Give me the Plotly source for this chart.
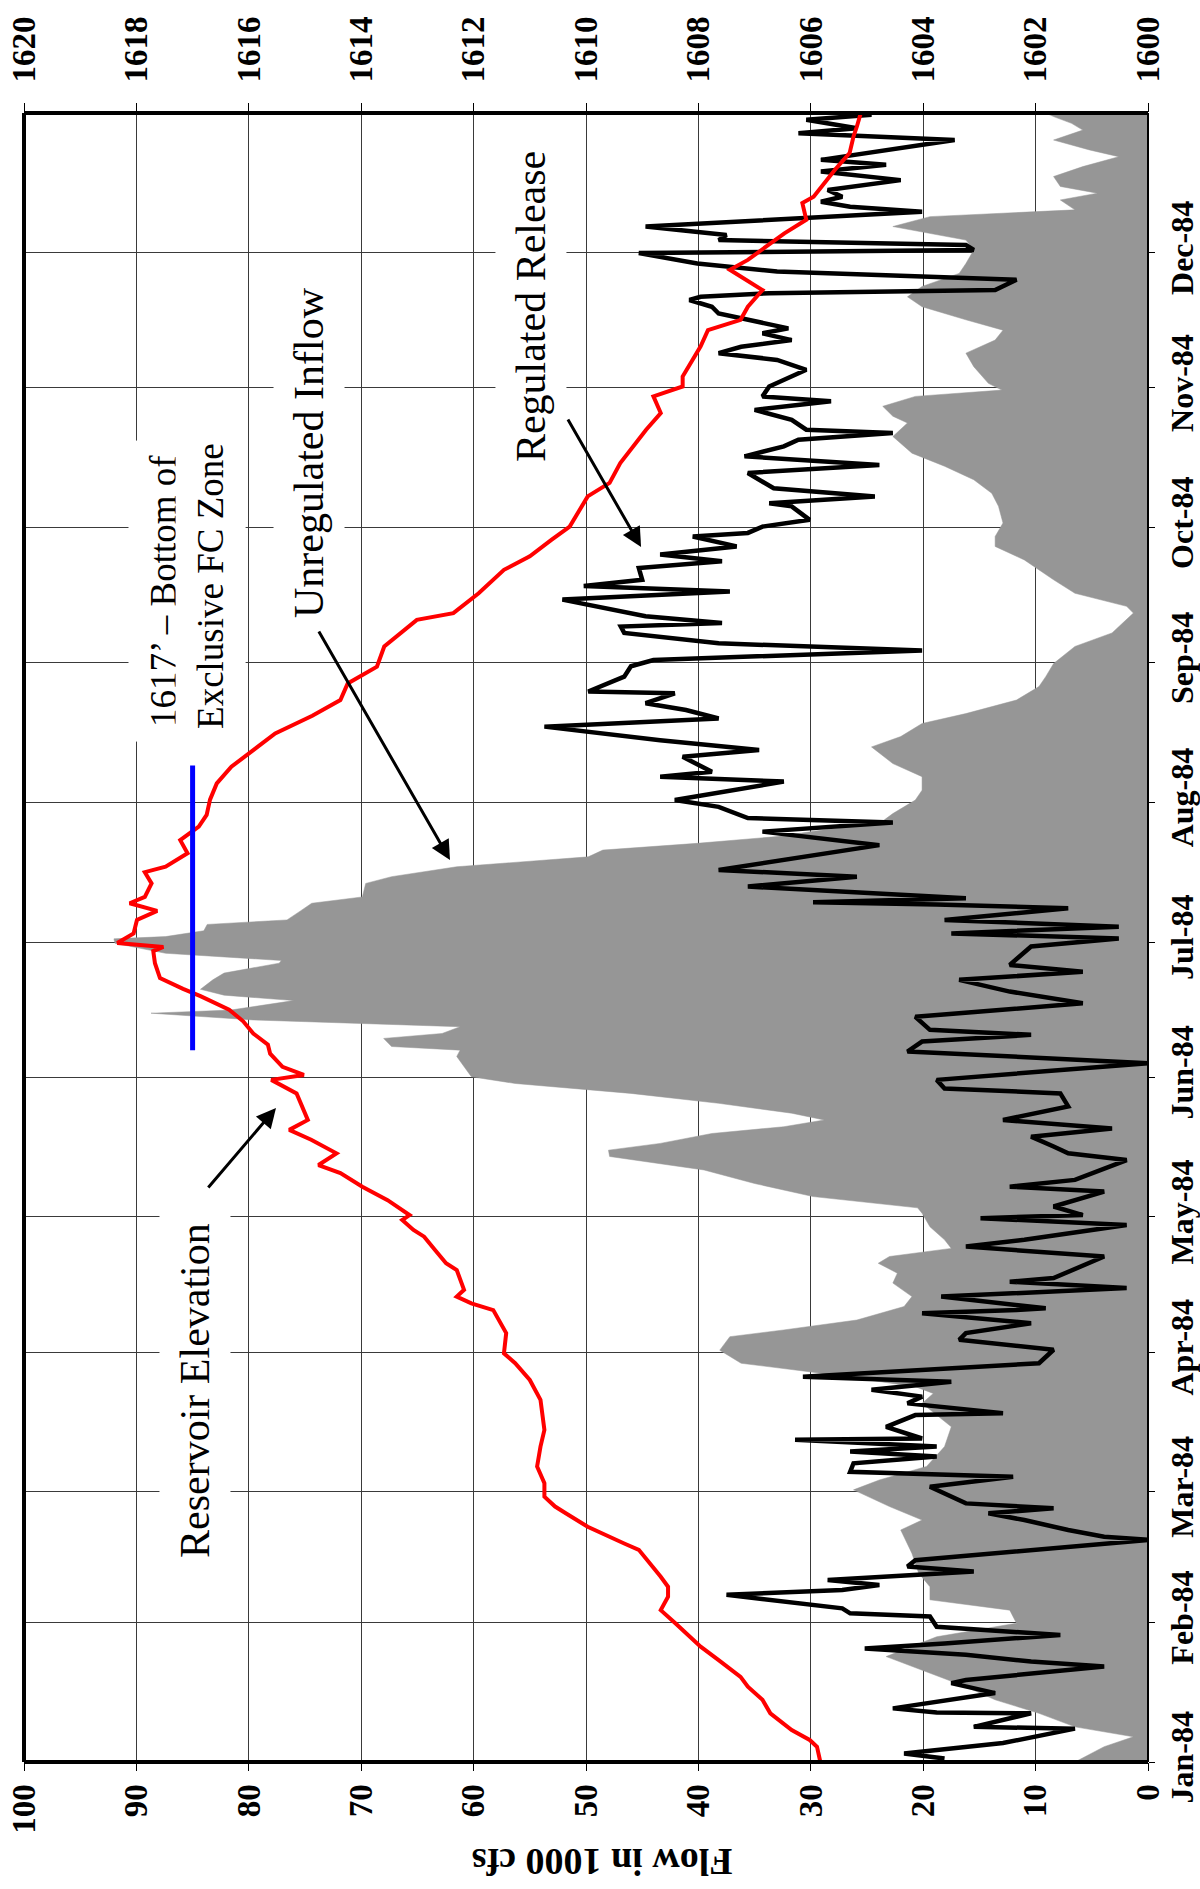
import pandas as pd
import plotly.graph_objects as go

# ---------------- data (day offsets from 1 Jan 1984) ----------------
elev_days = [0.0, 3.4, 4.9, 7.1, 10.8, 13.8, 16.7, 18.9, 22.6, 25.6, 30.8, 33.7, 36.7, 38.9, 41.1, 44.1,
             47.1, 48.5, 52.2, 55.2, 56.7, 58.9, 61.9, 65.6, 70.0, 73.7, 80.4, 84.8, 88.5, 90.7, 95.2,
             100.3, 101.8, 103.3, 104.8, 109.2, 110.7, 113.7, 116.6, 118.1, 120.3, 121.4, 124.7, 127.7,
             130.7, 132.5, 135.1, 138.1, 140.3, 142.5, 148.4, 151.4, 152.5, 154.3, 157.2, 159.2, 161.7,
             164.4, 167.0, 170.0, 171.6, 174.0, 177.3, 180.0, 180.9, 181.8, 183.9, 186.9, 188.9, 190.6,
             192.0, 195.0, 197.5, 198.7, 201.7, 204.6, 207.6, 210.2, 213.6, 217.2, 220.9, 224.6, 228.3,
             232.2, 235.7, 239.4, 243.1, 247.6, 253.5, 255.0, 259.4, 264.6, 267.6, 271.3, 274.2, 280.9,
             283.9, 288.3, 291.3, 295.7, 299.4, 303.1, 305.3, 307.5, 314.2, 317.8, 320.1, 323.0, 326.7,
             328.2, 331.2, 333.4, 336.3, 339.3, 342.3, 346.0, 347.4, 350.4, 353.4, 357.1, 360.8, 363.0, 366.0]
elev_ft = [1605.83, 1605.89, 1606.02, 1606.34, 1606.72, 1606.86, 1607.12, 1607.25, 1607.64, 1607.96, 1608.41,
           1608.67, 1608.54, 1608.54, 1608.67, 1608.87, 1609.06, 1609.32, 1609.97, 1610.36, 1610.55, 1610.74,
           1610.74, 1610.87, 1610.81, 1610.74, 1610.81, 1611.00, 1611.26, 1611.46, 1611.42, 1611.65, 1612.04,
           1612.30, 1612.17, 1612.30, 1612.49, 1612.69, 1612.88, 1613.07, 1613.27, 1613.14, 1613.53, 1613.98,
           1614.37, 1614.76, 1614.44, 1614.89, 1615.28, 1614.95, 1615.15, 1615.60, 1615.02, 1615.40, 1615.62,
           1615.66, 1615.92, 1616.10, 1616.35, 1616.86, 1617.17, 1617.58, 1617.67, 1617.70, 1617.52, 1618.34,
           1618.05, 1617.99, 1617.63, 1618.12, 1617.85, 1617.73, 1617.85, 1617.48, 1617.09, 1617.22, 1616.89,
           1616.75, 1616.69, 1616.57, 1616.31, 1615.92, 1615.53, 1614.87, 1614.37, 1614.24, 1613.72, 1613.59,
           1613.01, 1612.36, 1611.91, 1611.46, 1611.00, 1610.61, 1610.29, 1609.97, 1609.58, 1609.39, 1609.20,
           1608.93, 1608.67, 1608.80, 1608.28, 1608.28, 1607.96, 1607.83, 1607.25, 1607.12, 1606.86, 1607.06,
           1607.44, 1607.12, 1606.80, 1606.47, 1606.08, 1606.15, 1605.95, 1605.76, 1605.57, 1605.31, 1605.24,
           1605.18, 1605.11]

inflow_days = [0.0, 3.4, 5.6, 7.8, 10.8, 13.8, 16.7, 19.7, 23.4, 27.8, 30.8, 33.7, 36.0, 38.9, 41.9, 46.3,
               51.5, 53.7, 56.7, 60.4, 62.6, 65.6, 70.0, 74.4, 79.6, 81.8, 83.3, 86.3, 88.5, 91.4, 94.4,
               95.9, 98.1, 101.1, 103.3, 106.3, 108.5, 110.7, 112.2, 114.0, 115.9, 118.8, 121.8, 123.0,
               125.5, 128.4, 131.4, 134.4, 135.8, 137.3, 139.5, 141.0, 142.5, 144.0, 146.2, 148.4, 150.6,
               152.1, 154.3, 156.6, 158.0, 158.8, 160.6, 161.7, 163.2, 164.7, 166.2, 166.9, 169.0, 170.2,
               171.5, 173.6, 175.1, 177.3, 177.9, 179.5, 181.7, 182.7, 183.2, 184.5, 185.9, 186.9, 188.9,
               190.6, 192.0, 195.0, 196.5, 198.7, 200.9, 202.4, 203.9, 205.4, 206.8, 208.3, 210.5, 213.5,
               215.7, 218.7, 221.6, 225.3, 227.6, 230.5, 232.7, 235.7, 238.7, 240.9, 243.8, 247.6, 250.6,
               255.0, 256.5, 259.4, 262.4, 266.8, 269.8, 272.0, 275.0, 278.7, 281.6, 284.6, 287.6, 290.5,
               294.2, 297.2, 298.7, 300.9, 303.1, 304.5, 306.0, 309.7, 312.7, 315.6, 317.8, 320.1, 323.0,
               325.2, 327.5, 330.4, 332.6, 335.6, 337.8, 340.8, 343.0, 344.5, 346.7, 348.2, 349.7, 351.9,
               354.1, 356.3, 357.8, 360.0, 362.2, 363.7, 365.2, 366.0]
inflow_kcfs = [6.5, 3.9, 1.3, 6.5, 9.7, 13.6, 16.2, 19.4, 23.3, 18.8, 11.7, 12.3, 19.4, 19.4, 20.4, 21.0,
               22.0, 20.1, 23.0, 26.2, 23.9, 19.7, 18.1, 17.5, 20.1, 19.1, 20.7, 29.1, 36.2, 38.1, 37.2,
               32.4, 25.9, 21.7, 21.0, 22.7, 22.3, 24.0, 23.0, 17.5, 18.1, 19.4, 20.1, 20.5,
               29.8, 35.0, 39.5, 47.9, 48.0, 43.4, 38.8, 32.4, 28.8, 31.7, 38.2, 46.0, 56.3,
               60.2, 60.8, 61.5, 61.2, 67.3, 68.0, 62.8, 61.2, 79.6, 88.7, 81.6, 76.0, 82.2,
               84.3, 83.2, 82.2, 77.3, 77.1, 87.4, 91.9, 92.0, 87.4, 84.0, 83.7, 76.6, 75.4,
               74.4, 69.9, 69.6, 67.3, 61.5, 49.8, 48.5, 40.1, 33.0, 29.1, 23.9, 22.7, 20.7,
               20.1, 20.1, 22.7, 24.6, 22.0, 20.1, 16.2, 11.7, 9.7, 9.1, 8.4, 6.5, 3.2,
               1.3, 1.9, 6.5, 8.4, 11.0, 13.6, 13.6, 12.9, 13.3, 13.9, 15.5, 18.1, 21.0,
               22.7, 21.4, 22.7, 23.6, 20.7, 13.0, 14.2, 15.5, 16.2, 13.6, 12.9, 16.2, 20.1,
               21.4, 20.1, 16.8, 16.2, 15.5, 16.2, 22.7, 19.4, 6.5, 7.8, 4.5, 7.8, 8.4,
               5.8, 2.6, 5.2, 8.4, 5.8, 6.8, 8.4, 9.1]

release_days = [0.8, 1.9, 4.2, 7.4, 7.8, 10.8, 11.0, 11.9, 15.3, 17.5, 18.2, 21.2, 22.3, 23.8, 25.2, 26.3,
                28.2, 29.7, 30.0, 32.3, 33.0, 34.1, 37.1, 38.2, 39.3, 40.4, 42.3, 43.4, 44.8, 49.3, 50.0,
                51.5, 53.7, 55.2, 56.3, 57.4, 61.1, 63.3, 64.4, 66.3, 67.8, 68.9, 70.0, 71.5, 71.8, 74.4,
                77.0, 77.4, 79.6, 81.1, 82.6, 84.4, 85.5, 88.5, 91.5, 93.7, 95.2, 97.4, 99.6, 100.3, 100.7,
                103.3, 105.2, 106.6, 107.4, 112.2, 114.4, 115.9, 119.2, 120.7, 121.4, 123.3, 126.6, 127.7,
                129.2, 133.6, 135.1, 136.6, 138.8, 140.6, 142.5, 145.5, 148.4, 149.5, 151.4, 155.1, 157.7,
                159.9, 161.4, 162.5, 165.4, 168.4, 171.0, 173.6, 175.4, 176.9, 181.0, 182.8, 183.9, 185.4,
                186.9, 189.5, 190.3, 190.8, 191.7, 194.3, 196.5, 198.0, 203.5, 206.5, 208.5, 209.5, 212.0,
                213.5, 217.6, 218.7, 219.8, 223.1, 224.6, 226.8, 229.8, 231.6, 233.5, 235.0, 237.2, 237.6,
                240.9, 243.2, 244.6, 246.7, 248.3, 250.6, 252.0, 252.8, 254.3, 258.0, 259.8, 261.0, 262.4,
                265.0, 266.5, 268.0, 269.8, 272.0, 272.8, 274.2, 275.7, 278.7, 279.4, 280.9, 282.7, 286.1,
                287.9, 289.8, 292.0, 293.5, 295.0, 295.7, 297.9, 300.1, 302.0, 303.1, 305.3, 309.0, 311.2,
                312.7, 314.1, 315.6, 317.1, 318.2, 320.1, 321.5, 323.0, 324.5, 325.2, 326.0, 326.7, 329.0,
                330.8, 332.6, 334.9, 335.6, 336.7, 337.8, 338.9, 340.8, 344.1, 345.2, 346.3, 347.4, 348.9,
                351.1, 353.0, 354.5, 355.6, 360.0, 361.5, 362.6, 364.5, 365.6, 366.0]
release_kcfs = [18.1, 21.7, 12.9, 6.5, 15.5, 10.4, 18.8, 22.7, 13.6, 17.5, 16.2, 3.9, 10.4, 16.2, 25.2, 18.1,
                7.8, 16.8, 18.8, 19.4, 26.5, 27.2, 37.5, 27.2, 23.9, 28.5, 15.5, 21.4, 20.7, 0.0, 3.9,
                7.1, 11.0, 14.2, 8.4, 16.2, 19.4, 12.0, 26.5, 26.2, 18.8, 26.5, 18.8, 31.4, 20.1, 23.3,
                20.7, 12.9, 21.4, 20.1, 24.6, 17.5, 30.7, 9.7, 8.4, 16.8, 16.2, 10.4, 20.1, 11.7, 9.1,
                18.4, 1.9, 12.3, 8.4, 3.9, 16.2, 11.0, 1.9, 14.9, 5.8, 8.4, 3.9, 12.3,
                6.5, 1.9, 7.1, 8.4, 10.4, 3.2, 12.9, 7.1, 7.8, 18.1, 18.8, 0.0, 21.4,
                20.1, 10.4, 19.4, 20.7, 5.8, 12.3, 16.8, 5.8, 12.3, 10.4, 2.6, 17.5, 2.6,
                18.1, 7.1, 18.8, 29.8, 16.2, 35.6, 25.9, 38.2, 23.9, 34.3, 22.7, 35.6, 38.2,
                42.1, 32.4, 43.4, 38.8, 41.4, 34.6, 43.4, 53.7, 38.2, 41.1, 44.7, 42.1, 49.8,
                46.6, 46.0, 44.0, 20.1, 38.2, 46.6, 46.9, 37.9, 44.7, 52.1, 37.2, 50.2, 45.0,
                45.3, 37.9, 43.4, 36.6, 40.5, 35.6, 34.3, 30.1, 31.7, 33.7, 24.3, 33.3, 35.6,
                23.9, 35.9, 32.4, 31.1, 22.7, 30.4, 31.7, 35.0, 28.2, 34.3, 33.7, 30.4, 33.0,
                38.2, 36.2, 31.7, 34.3, 32.0, 35.6, 38.2, 38.8, 40.8, 39.8, 33.7, 13.6, 11.7,
                33.0, 40.1, 45.3, 15.5, 16.2, 38.2, 37.5, 44.7, 20.1, 26.5, 29.1, 27.2, 28.5,
                22.0, 29.1, 23.3, 29.1, 17.2, 31.1, 25.9, 30.4, 24.6, 25.9]

fc_zone_elev = [1617, 1617]
fc_zone_days = [158.0, 221.2]

month_starts = ["1984-01-01", "1984-02-01", "1984-03-01", "1984-04-01", "1984-05-01", "1984-06-01",
                "1984-07-01", "1984-08-01", "1984-09-01", "1984-10-01", "1984-11-01", "1984-12-01"]
month_labels = ["Jan-84", "Feb-84", "Mar-84", "Apr-84", "May-84", "Jun-84",
                "Jul-84", "Aug-84", "Sep-84", "Oct-84", "Nov-84", "Dec-84"]
flow_ticks = [0, 10, 20, 30, 40, 50, 60, 70, 80, 90, 100]
elev_ticks = [1600, 1602, 1604, 1606, 1608, 1610, 1612, 1614, 1616, 1618, 1620]

# ---------------------------------------------------------------
BASE = pd.Timestamp("1984-01-01")


def to_dates(days):
    return [BASE + pd.Timedelta(days=float(d)) for d in days]


SERIF = "Liberation Serif, Times New Roman, serif"

fig = go.Figure()
fig.add_trace(go.Scatter(x=inflow_kcfs, y=to_dates(inflow_days), mode="lines", fill="tozerox",
                         fillcolor="#969696", line=dict(color="#969696", width=0.5),
                         xaxis="x", yaxis="y", showlegend=False, hoverinfo="skip"))
fig.add_trace(go.Scatter(x=release_kcfs, y=to_dates(release_days), mode="lines",
                         line=dict(color="black", width=4.5), xaxis="x", yaxis="y", showlegend=False))
fig.add_trace(go.Scatter(x=elev_ft, y=to_dates(elev_days), mode="lines",
                         line=dict(color="#ff0000", width=4), xaxis="x2", yaxis="y", showlegend=False))
fig.add_trace(go.Scatter(x=fc_zone_elev, y=to_dates(fc_zone_days), mode="lines",
                         line=dict(color="#0000ff", width=5), xaxis="x2", yaxis="y", showlegend=False))

tickfont = dict(family=SERIF, size=33, color="black", weight="bold")

fig.update_layout(
    width=1200, height=1889,
    margin=dict(l=24, r=52, t=113, b=127, autoexpand=False),
    paper_bgcolor="white", plot_bgcolor="white",
    xaxis=dict(range=[100, 0], tickvals=flow_ticks, tickangle=-90, tickfont=tickfont,
               ticks="outside", ticklen=8, tickcolor="black", showgrid=True, automargin=False,
               gridcolor="#3a3a3a", gridwidth=1, zeroline=False, showline=False),
    xaxis2=dict(range=[1620, 1600], tickvals=elev_ticks, tickangle=-90, tickfont=tickfont,
                overlaying="x", side="top", anchor="y", ticks="outside", ticklen=9,
                tickcolor="black", showgrid=False, zeroline=False, showline=False,
                automargin=False, ticklabelstandoff=14),
    yaxis=dict(type="date", range=["1984-01-01", "1985-01-01"], tickvals=month_starts,
               ticktext=month_labels, tickangle=-90, side="right", automargin=False,
               tickfont=dict(family=SERIF, size=32, color="black", weight="bold"),
               ticks="outside", ticklen=6, tickcolor="black", showgrid=True,
               gridcolor="#3a3a3a", gridwidth=1, zeroline=False, showline=False),
)

# frame
for x0, y0, x1, y1, w in [(0, 0, 0, 1, 4), (0, 1, 1, 1, 4), (0, 0, 1, 0, 4), (1, 0, 1, 1, 2)]:
    fig.add_shape(type="line", xref="paper", yref="paper", x0=x0, y0=y0, x1=x1, y1=y1,
                  line=dict(color="black", width=w), layer="above")

afont = dict(family=SERIF, size=42, color="black")
ffont = dict(family=SERIF, size=37, color="black")


def text_ann(txt, x, y, font, pad=12):
    fig.add_annotation(text=txt, x=x, y=y, xref="paper", yref="paper", showarrow=False,
                       textangle=-90, font=font, bgcolor="white", borderpad=pad,
                       xanchor="center", yanchor="middle")


text_ann("Reservoir Elevation", 0.1521, 0.2256, afont)
text_ann("1617\u2019 \u2013 Bottom of", 0.1237, 0.7101, ffont, pad=14)
text_ann("Exclusive FC Zone", 0.1664, 0.7132, ffont, pad=14)
text_ann("Unregulated Inflow", 0.2536, 0.7938, afont)
text_ann("Regulated Release", 0.4511, 0.8823, afont)


def arrow(x, y, ax, ay):
    fig.add_annotation(text="", x=x, y=y, xref="paper", yref="paper", ax=ax, ay=ay,
                       showarrow=True, arrowhead=2, arrowsize=1.3, arrowwidth=3,
                       arrowcolor="black", standoff=0, startstandoff=0)


arrow(0.2242, 0.3966, -69, 81)
arrow(0.379, 0.547, -132, -230)
arrow(0.549, 0.7368, -74, -129)

fig.add_annotation(text="Flow in 1000 cfs", x=0.514, y=-0.0606, xref="paper", yref="paper",
                   showarrow=False, textangle=180,
                   font=dict(family=SERIF, size=38, color="black", weight="bold"),
                   xanchor="center", yanchor="middle")

fig.write_html("out.html", config={"displayModeBar": False},
               post_script="document.body.style.margin='0';document.body.style.overflow='hidden';")
